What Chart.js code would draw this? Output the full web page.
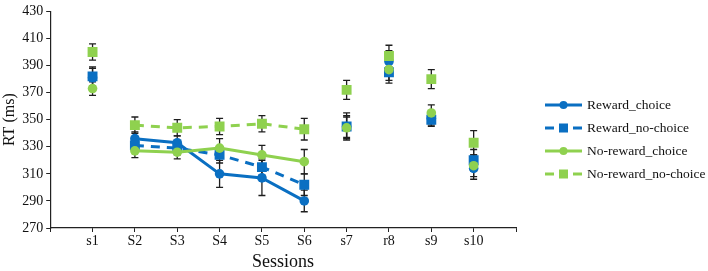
<!DOCTYPE html>
<html>
<head>
<meta charset="utf-8">
<script src="https://cdn.jsdelivr.net/npm/chart.js@4"></script>
<style>
  html, body { margin: 0; padding: 0; background: #fff; }
  #wrap { width: 708px; height: 271px; }
</style>
</head>
<body>
<div id="wrap"><canvas id="rtChart"></canvas></div>
<script>
var sessions = ['s1', 'S2', 'S3', 'S4', 'S5', 'S6', 's7', 'r8', 's9', 's10'];

var rewardChoice        = [381, 336, 333, 310, 307, 290, 345, 393, 351, 314];
var rewardChoiceErr     = [  7,   5,   5,  10,  13,   8,  10,   8,   5,   8];
var rewardNoChoice      = [382, 331, 329, 324, 315, 302, 345, 385, 350, 320];
var rewardNoChoiceErr   = [  7,   5,   5,   6,   6,   8,   8,   8,   5,   8];
var noRewardChoice      = [373, 327, 326, 329, 324, 319, 344, 387, 355, 316];
var noRewardChoiceErr   = [  5,   5,   5,   7,   7,   9,   8,   8,   6,   8];
var noRewardNoChoice    = [400, 346, 344, 345, 347, 343, 372, 397, 380, 333];
var noRewardNoChoiceErr = [  6,   6,   6,   6,   6,   8,   7,   8,   7,   9];

var blue = '#0a6fc2';
var green = '#8fd14f';
var serif = "'Liberation Serif', 'Times New Roman', serif";

// blank slots at both ends so s1 / s10 sit one step in from the axis ends
var labels = [''].concat(sessions, ['']);
function pad(arr) { return [null].concat(arr, [null]); }

// only the S2..S6 block is joined by lines
function segColor(color) {
  return function (c) {
    return (c.p0DataIndex >= 2 && c.p1DataIndex <= 6) ? color : 'rgba(0,0,0,0)';
  };
}

function makeSet(label, data, err, color, style, dashed, order) {
  return {
    label: label,
    data: pad(data),
    errors: pad(err),
    order: order,
    borderColor: color,
    backgroundColor: color,
    borderWidth: 3,
    borderDash: dashed ? [9, 7] : [],
    pointStyle: style,
    pointRadius: style === 'rect' ? 7 : 4.8,
    pointBorderWidth: 0,
    pointBackgroundColor: color,
    spanGaps: false,
    lineTension: 0,
    segment: { borderColor: segColor(color) },
    _dashed: dashed,
  };
}

var errorBars = {
  id: 'errorBars',
  beforeDatasetsDraw: function (chart) {
    var ctx = chart.ctx, y = chart.scales.y;
    ctx.save();
    ctx.strokeStyle = '#1e1e1e';
    ctx.lineWidth = 1.3;
    chart.data.datasets.forEach(function (ds, di) {
      var meta = chart.getDatasetMeta(di);
      ds.data.forEach(function (v, i) {
        if (v === null) return;
        var e = ds.errors[i];
        var x = meta.data[i].x;
        var top = y.getPixelForValue(v + e);
        var bot = y.getPixelForValue(v - e);
        ctx.beginPath();
        ctx.moveTo(x, top); ctx.lineTo(x, bot);
        ctx.moveTo(x - 3.5, top); ctx.lineTo(x + 3.5, top);
        ctx.moveTo(x - 3.5, bot); ctx.lineTo(x + 3.5, bot);
        ctx.stroke();
      });
    });
    ctx.restore();
  }
};

var sideLegend = {
  id: 'sideLegend',
  afterDraw: function (chart) {
    var ctx = chart.ctx, area = chart.chartArea;
    var x0 = area.right + 29, x1 = area.right + 66;
    var ys = [105, 128, 151, 174];
    ctx.save();
    chart.data.datasets.forEach(function (ds, i) {
      var yy = ys[i];
      ctx.strokeStyle = ds.borderColor;
      ctx.lineWidth = 3;
      ctx.setLineDash(ds._dashed ? [9, 5] : []);
      ctx.beginPath();
      ctx.moveTo(x0, yy); ctx.lineTo(x1, yy);
      ctx.stroke();
      ctx.setLineDash([]);
      ctx.fillStyle = ds.borderColor;
      var mx = (x0 + x1) / 2;
      if (ds.pointStyle === 'rect') {
        ctx.fillRect(mx - 4.5, yy - 4.5, 9, 9);
      } else {
        ctx.beginPath();
        ctx.arc(mx, yy, 4, 0, Math.PI * 2);
        ctx.fill();
      }
      ctx.fillStyle = '#111';
      ctx.font = '13.5px ' + serif;
      ctx.textBaseline = 'middle';
      ctx.fillText(ds.label, x1 + 5, yy);
    });
    ctx.restore();
  }
};

new Chart(document.getElementById('rtChart'), {
  type: 'line',
  data: {
    labels: labels,
    datasets: [
      makeSet('Reward_choice', rewardChoice, rewardChoiceErr, blue, 'circle', false, 4),
      makeSet('Reward_no-choice', rewardNoChoice, rewardNoChoiceErr, blue, 'rect', true, 3),
      makeSet('No-reward_choice', noRewardChoice, noRewardChoiceErr, green, 'circle', false, 2),
      makeSet('No-reward_no-choice', noRewardNoChoice, noRewardNoChoiceErr, green, 'rect', true, 1),
    ],
  },
  options: {
    responsive: true,
    maintainAspectRatio: false,
    animation: false,
    layout: { padding: { top: 5, right: 192, left: 0, bottom: 0 } },
    plugins: {
      legend: { display: false },
      tooltip: { enabled: false },
    },
    scales: {
      x: {
        offset: false,
        grid: { display: true, drawOnChartArea: false, tickLength: 4, color: '#222' },
        border: { display: true, color: '#222', width: 1.2 },
        ticks: { color: '#111', font: { family: serif, size: 14, lineHeight: 1 }, autoSkip: false, maxRotation: 0, padding: 2 },
        title: { display: true, text: 'Sessions', color: '#111', font: { family: serif, size: 18, lineHeight: 1 }, padding: { top: 3, bottom: 0 } },
      },
      y: {
        min: 270,
        max: 430,
        grid: { display: true, drawOnChartArea: false, tickLength: 4, color: '#222' },
        border: { display: true, color: '#222', width: 1.2 },
        ticks: { stepSize: 20, color: '#111', font: { family: serif, size: 14 }, padding: 3 },
        title: { display: true, text: 'RT (ms)', color: '#111', font: { family: serif, size: 16 }, padding: { top: 0, bottom: 0 } },
      },
    },
  },
  plugins: [errorBars, sideLegend],
});
</script>
</body>
</html>
